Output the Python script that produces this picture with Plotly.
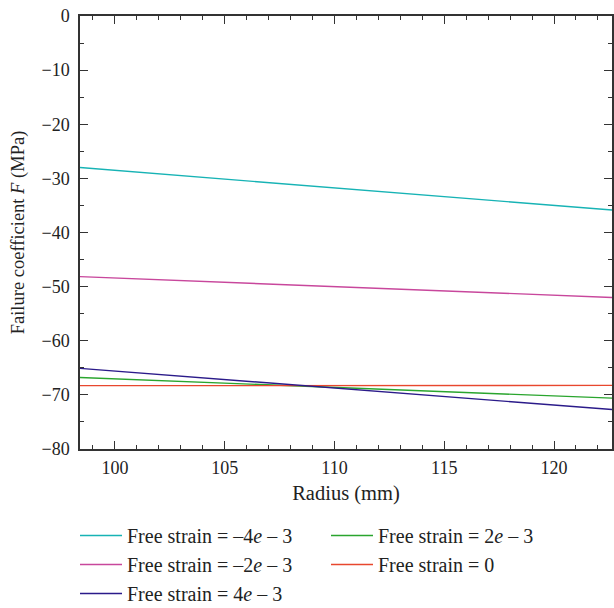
import plotly.graph_objects as go

# Radius range of the model (mm)
radius = [98.41, 122.64]

# Failure coefficient F (MPa) at the two ends of the radius range
f_m4e3 = [-28.0, -35.85]
f_m2e3 = [-48.15, -52.0]
f_p4e3 = [-65.1, -72.7]
f_p2e3 = [-66.8, -70.6]
f_zero = [-68.3, -68.25]

series_names = [
    "Free strain = –4<i>e</i> – 3",
    "Free strain = 2<i>e</i> – 3",
    "Free strain = –2<i>e</i> – 3",
    "Free strain = 0",
    "Free strain = 4<i>e</i> – 3",
]
series_values = [f_m4e3, f_p2e3, f_m2e3, f_zero, f_p4e3]
series_colors = ["#17b3b5", "#2aa52e", "#c8479c", "#e8472e", "#2b1b8a"]

x_ticks = [100, 105, 110, 115, 120]
y_ticks = [0, -10, -20, -30, -40, -50, -60, -70, -80]

FONT = "Liberation Serif, DejaVu Serif, serif"
AXIS_COLOR = "#333333"
TEXT_COLOR = "#222222"

fig = go.Figure()
for name, vals, col in zip(series_names, series_values, series_colors):
    fig.add_trace(go.Scatter(
        x=radius, y=vals, mode="lines", name=name,
        line=dict(color=col, width=1.4),
    ))

axis_common = dict(
    showline=True, linecolor=AXIS_COLOR, linewidth=1.5, mirror="ticks",
    ticks="inside", ticklen=8, tickwidth=1.3, tickcolor=AXIS_COLOR,
    showgrid=False, zeroline=False,
    tickfont=dict(family=FONT, size=18, color=TEXT_COLOR),
)

fig.update_xaxes(
    range=[radius[0], radius[1]], tickvals=x_ticks,
    ticktext=[str(v) for v in x_ticks],
    minor=dict(dtick=1, ticks="inside", ticklen=4, tickwidth=1.2, tickcolor=AXIS_COLOR),
    title=dict(text="Radius (mm)", font=dict(family=FONT, size=20.5, color=TEXT_COLOR), standoff=8),
    ticklabelstandoff=2,
    **axis_common,
)
fig.update_yaxes(
    range=[-80, 0], tickvals=y_ticks,
    ticktext=[("−" + str(-v)) if v < 0 else str(v) for v in y_ticks],
    minor=dict(dtick=5, ticks="inside", ticklen=4, tickwidth=1.2, tickcolor=AXIS_COLOR),
    title=dict(text="Failure coefficient <i>F</i> (MPa)",
               font=dict(family=FONT, size=18.5, color=TEXT_COLOR), standoff=12),
    ticklabelstandoff=5,
    **axis_common,
)

fig.update_layout(
    width=614, height=608,
    margin=dict(l=80, r=0, t=16, b=159),
    paper_bgcolor="white", plot_bgcolor="white",
    font=dict(family=FONT, size=18, color=TEXT_COLOR),
    showlegend=True,
    legend=dict(
        orientation="h", xref="container", yref="container",
        x=75 / 614, y=1 - 516 / 608, xanchor="left", yanchor="top",
        entrywidth=194, entrywidthmode="pixels", itemwidth=42,
        tracegroupgap=0, traceorder="normal",
        font=dict(family=FONT, size=20, color=TEXT_COLOR),
        bgcolor="rgba(0,0,0,0)",
    ),
)

fig.write_html("out.html")
